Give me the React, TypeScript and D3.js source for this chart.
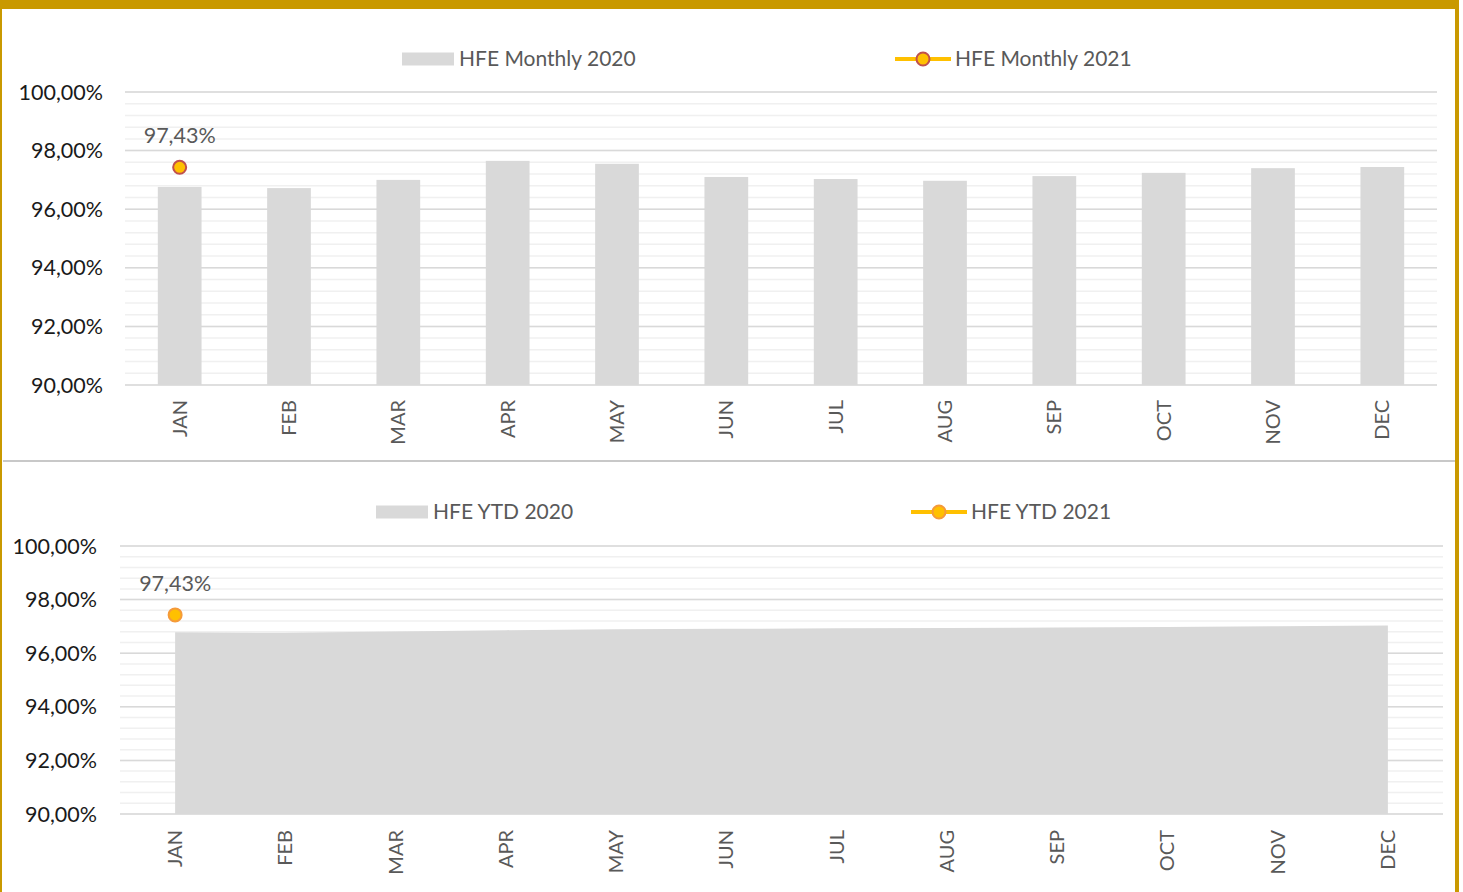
import React, { useEffect, useRef } from 'react';
import * as d3 from 'd3';

const months = ['JAN', 'FEB', 'MAR', 'APR', 'MAY', 'JUN', 'JUL', 'AUG', 'SEP', 'OCT', 'NOV', 'DEC'];
const monthly2020 = [96.76, 96.72, 97.0, 97.65, 97.55, 97.1, 97.03, 96.97, 97.13, 97.24, 97.4, 97.44];
const monthly2021 = [97.43];
const ytd2020 = [96.78, 96.76, 96.81, 96.86, 96.89, 96.91, 96.93, 96.94, 96.96, 96.98, 97.01, 97.03];
const ytd2021 = [97.43];
const yTicks = [90, 92, 94, 96, 98, 100];

const fmt = (v: number) => v.toFixed(2).replace('.', ',') + '%';
const FONT = 'Lato, "Open Sans", sans-serif';
const GOLD = '#C99900';
const YELLOW = '#FFC000';

const App = () => {
  const svgRef = useRef<SVGSVGElement>(null);

  useEffect(() => {
    const svg = d3.select(svgRef.current);
    svg.selectAll('*').remove();

    svg.append('rect').attr('width', 1463).attr('height', 892).attr('fill', '#fff');

    const drawPanel = (opts: any) => {
      const { left, right, top, bottom, tickX, labelEnd, legend, kind, values, points, pointStroke } = opts;
      const g = svg.append('g');
      const x = d3.scaleBand().domain(months).range([left, right]).padding(0);
      const cx = (m: string) => (x(m) as number) + x.bandwidth() / 2;
      const y = d3.scaleLinear().domain([90, 100]).range([bottom, top]);

      // minor grid
      const minor = d3.range(0, 26).map(i => 90 + i * 0.4);
      g.selectAll('.minor')
        .data(minor)
        .enter()
        .append('line')
        .attr('x1', left)
        .attr('x2', right)
        .attr('y1', d => y(d))
        .attr('y2', d => y(d))
        .attr('stroke', '#f0f0f0')
        .attr('stroke-width', 1.5);

      g.selectAll('.major')
        .data(yTicks)
        .enter()
        .append('line')
        .attr('x1', left)
        .attr('x2', right)
        .attr('y1', d => y(d))
        .attr('y2', d => y(d))
        .attr('stroke', '#d9d9d9')
        .attr('stroke-width', 1.5);

      g.selectAll('.ytick')
        .data(yTicks)
        .enter()
        .append('text')
        .attr('x', tickX)
        .attr('y', d => y(d))
        .attr('dy', '0.35em')
        .attr('text-anchor', 'end')
        .attr('font-family', FONT)
        .attr('font-size', 21.5)
        .attr('fill', '#1a1a1a')
        .text(d => fmt(d));

      if (kind === 'bar') {
        const bw = x.bandwidth() * 0.4;
        g.selectAll('.bar')
          .data(values)
          .enter()
          .append('rect')
          .attr('x', (d, i) => cx(months[i]) - bw / 2)
          .attr('y', (d: any) => y(d))
          .attr('width', bw)
          .attr('height', (d: any) => y(90) - y(d))
          .attr('fill', '#d9d9d9');
      } else {
        const area = d3.area<number>()
          .x((d, i) => cx(months[i]))
          .y0(y(90))
          .y1(d => y(d));
        g.append('path').datum(values).attr('d', area).attr('fill', '#d9d9d9');
      }

      // 2021 points + labels
      points.forEach((v: number, i: number) => {
        g.append('text')
          .attr('x', cx(months[i]))
          .attr('y', y(v) - 24)
          .attr('text-anchor', 'middle')
          .attr('font-family', FONT)
          .attr('font-size', 21.5)
          .attr('fill', '#595959')
          .text(fmt(v));
        g.append('circle')
          .attr('cx', cx(months[i]))
          .attr('cy', y(v))
          .attr('r', 6.5)
          .attr('fill', YELLOW)
          .attr('stroke', pointStroke)
          .attr('stroke-width', 2);
      });

      // month labels
      g.selectAll('.mlabel')
        .data(months)
        .enter()
        .append('text')
        .attr('transform', d => `translate(${cx(d)},${labelEnd}) rotate(-90)`)
        .attr('dy', '0.35em')
        .attr('text-anchor', 'end')
        .attr('font-family', FONT)
        .attr('font-size', 20)
        .attr('fill', '#595959')
        .text(d => d);

      // legend
      const lg = g.append('g').attr('font-family', FONT).attr('font-size', 21).attr('fill', '#595959');
      lg.append('rect')
        .attr('x', legend.rectX)
        .attr('y', legend.y - 6.5)
        .attr('width', 52)
        .attr('height', 13)
        .attr('fill', '#d9d9d9');
      lg.append('text')
        .attr('x', legend.rectX + 57)
        .attr('y', legend.y)
        .attr('dy', '0.35em')
        .text(legend.label1);
      lg.append('line')
        .attr('x1', legend.lineX)
        .attr('x2', legend.lineX + 56)
        .attr('y1', legend.y)
        .attr('y2', legend.y)
        .attr('stroke', YELLOW)
        .attr('stroke-width', 4);
      lg.append('circle')
        .attr('cx', legend.lineX + 28)
        .attr('cy', legend.y)
        .attr('r', 6.5)
        .attr('fill', YELLOW)
        .attr('stroke', pointStroke)
        .attr('stroke-width', 2);
      lg.append('text')
        .attr('x', legend.lineX + 60)
        .attr('y', legend.y)
        .attr('dy', '0.35em')
        .text(legend.label2);
    };

    drawPanel({
      left: 125, right: 1437, top: 92, bottom: 385, tickX: 103, labelEnd: 400,
      kind: 'bar', values: monthly2020, points: monthly2021, pointStroke: '#C0504D',
      legend: { rectX: 402, lineX: 895, y: 59, label1: 'HFE Monthly 2020', label2: 'HFE Monthly 2021' },
    });

    drawPanel({
      left: 120, right: 1443, top: 546, bottom: 814, tickX: 97, labelEnd: 830,
      kind: 'area', values: ytd2020, points: ytd2021, pointStroke: '#F59A3A',
      legend: { rectX: 376, lineX: 911, y: 512, label1: 'HFE YTD 2020', label2: 'HFE YTD 2021' },
    });

    // separator
    svg.append('line')
      .attr('x1', 3).attr('x2', 1455).attr('y1', 461).attr('y2', 461)
      .attr('stroke', '#c8c8c8').attr('stroke-width', 2);

    // frame
    svg.append('rect').attr('x', 0).attr('y', 0).attr('width', 1459).attr('height', 9).attr('fill', GOLD);
    svg.append('rect').attr('x', 0).attr('y', 0).attr('width', 2).attr('height', 892).attr('fill', GOLD);
    svg.append('rect').attr('x', 1455).attr('y', 0).attr('width', 4).attr('height', 892).attr('fill', GOLD);
  }, []);

  return (
    <svg ref={svgRef} width={1463} height={892} style={{ position: 'absolute', left: 0, top: 0, display: 'block' }}></svg>
  );
};

export default App;
